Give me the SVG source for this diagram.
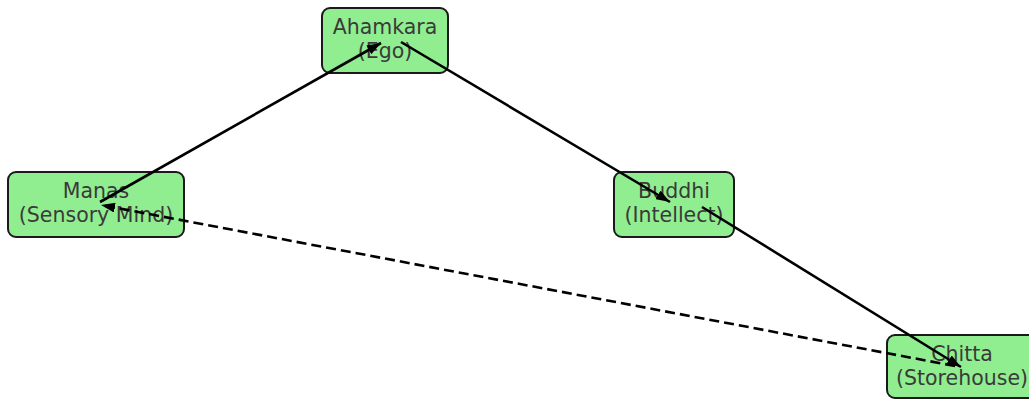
<svg xmlns="http://www.w3.org/2000/svg" width="1029" height="399" viewBox="0 0 1029 399">
<style>
.box{fill:#90ee90;stroke:#1a1a1a;stroke-width:2}
.lbl{font-family:"DejaVu Sans",sans-serif;font-size:20.5px;fill:#3a3a3a;text-anchor:middle}
.edge{stroke:#000;stroke-width:2.6;fill:none}
.dash{stroke-dasharray:10,5}
</style>
<defs>
<marker id="ah" viewBox="0 0 14 10" refX="14" refY="5" markerWidth="14" markerHeight="10" markerUnits="userSpaceOnUse" orient="auto">
<path d="M0,0 L14,5 L0,10 Z" fill="#000"/>
</marker>
</defs>
<rect width="1029" height="399" fill="#fff"/>
<g id="n-ahamkara">
<rect class="box" x="322" y="8" width="126" height="65" rx="8"/>
<text class="lbl" x="385" y="34">Ahamkara</text>
<text class="lbl" x="385" y="58">(Ego)</text>
</g>
<g id="n-manas">
<rect class="box" x="8" y="172" width="176" height="65" rx="8"/>
<text class="lbl" x="96" y="198">Manas</text>
<text class="lbl" x="96" y="222">(Sensory Mind)</text>
</g>
<g id="n-buddhi">
<rect class="box" x="614" y="172" width="120" height="65" rx="8"/>
<text class="lbl" x="674" y="198">Buddhi</text>
<text class="lbl" x="674" y="222">(Intellect)</text>
</g>
<g id="n-chitta">
<rect class="box" x="887" y="335" width="152" height="63" rx="8"/>
<text class="lbl" x="962" y="361">Chitta</text>
<text class="lbl" x="962" y="385">(Storehouse)</text>
</g>
<g id="connectors">
<line class="edge" x1="100" y1="202" x2="381" y2="43" marker-end="url(#ah)"/>
<line class="edge" x1="401" y1="42" x2="670" y2="202" marker-end="url(#ah)"/>
<line class="edge" x1="702" y1="207" x2="961" y2="367" marker-end="url(#ah)"/>
<line class="edge dash" x1="955" y1="366" x2="101" y2="205" marker-end="url(#ah)"/>
</g>
</svg>
